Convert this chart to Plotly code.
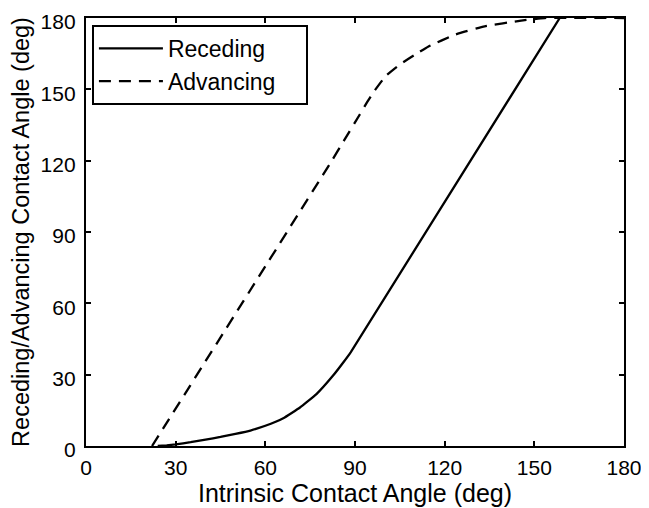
import plotly.graph_objects as go

# values (degrees)
rec_x = [24, 27, 30, 35, 40, 45, 50, 55, 60, 66, 71.6, 77.1, 82.6, 86, 88.6, 158.5]
rec_y = [0, 0.3, 0.7, 1.6, 2.7, 3.8, 5.1, 6.5, 8.5, 11.7, 16.2, 21.8, 29.5, 35, 39.5, 180]

adv_x = [22.1, 82, 86.4, 91.4, 94, 96.3, 100.2, 105.2, 110, 114.6, 123.5, 133.4, 145.6, 153.4, 180]
adv_y = [0, 119.5, 128.6, 139, 144.5, 149, 155.5, 160.6, 164.5, 168, 173, 176.5, 178.9, 180, 180]

ticks = [0, 30, 60, 90, 120, 150, 180]

FONT = "Liberation Sans"
PAD = "\u00a0" * 4  # widens the legend box a bit


def main():
    fig = go.Figure()
    fig.add_trace(go.Scatter(x=rec_x, y=rec_y, mode="lines", name="Receding" + PAD,
                             line=dict(color="black", width=2.3, shape="spline", smoothing=0.3)))
    fig.add_trace(go.Scatter(x=adv_x, y=adv_y, mode="lines", name="Advancing" + PAD,
                             line=dict(color="black", width=2.3, dash="12px,8px",
                                       shape="spline", smoothing=0.4)))

    axis = dict(range=[0, 180], tickvals=ticks, ticks="inside", ticklen=5, tickwidth=1.5,
                tickcolor="black", showline=True, linecolor="black", linewidth=2.3,
                mirror="ticks", showgrid=False, zeroline=False, automargin=False,
                ticklabeloverflow="allow",
                tickfont=dict(family=FONT, size=21, color="black"))
    fig.update_xaxes(**axis, ticklabelstandoff=2,
                     title=dict(text="Intrinsic Contact Angle (deg)", standoff=2,
                                font=dict(family=FONT, size=25, color="black")))
    fig.update_yaxes(**axis, ticklabelstandoff=4, ticklabelshift=4,
                     title=dict(text="Receding/Advancing Contact Angle (deg)", standoff=6,
                                font=dict(family=FONT, size=23.5, color="black")))

    # the page puts the figure 8px in from the top-left, so the figure is 8px smaller
    fig.update_layout(
        width=641, height=500,
        margin=dict(l=78, r=25, t=10, b=62),
        paper_bgcolor="white", plot_bgcolor="white",
        legend=dict(x=0.011, y=0.984, xanchor="left", yanchor="top",
                    bgcolor="white", bordercolor="black", borderwidth=2,
                    font=dict(family=FONT, size=23, color="black"),
                    itemwidth=64, tracegroupgap=0),
        showlegend=True,
    )
    fig.write_html("out.html")


if __name__ == '__main__':
    main()
